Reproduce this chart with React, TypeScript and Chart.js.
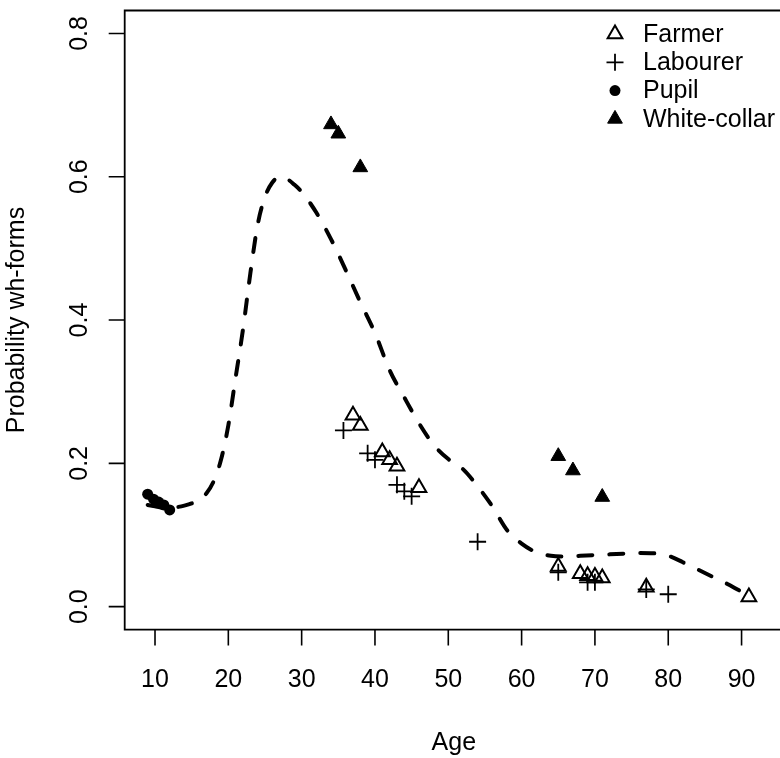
import React, { useEffect, useRef } from "react";
import { Chart, registerables } from "chart.js";

Chart.register(...registerables);

// ---- data ----
const curveAge = [9, 10, 11, 12, 13, 14, 15, 16, 17, 18, 19, 20, 21, 22, 23, 24, 25, 26, 27, 28, 29, 30, 32, 34, 36, 38, 40, 42, 44, 46, 48, 50, 52, 54, 56, 58, 60, 62, 64, 66, 68, 70, 72, 74, 76, 78, 80, 82, 84, 86, 88, 90, 91];
const curveProb = [0.142, 0.14, 0.138, 0.138, 0.139, 0.141, 0.144, 0.149, 0.158, 0.175, 0.205, 0.253, 0.32, 0.387, 0.465, 0.533, 0.572, 0.592, 0.6, 0.597, 0.589, 0.579, 0.55, 0.513, 0.47, 0.425, 0.382, 0.33, 0.292, 0.256, 0.226, 0.206, 0.192, 0.168, 0.14, 0.107, 0.088, 0.076, 0.071, 0.07, 0.071, 0.072, 0.073, 0.074, 0.075, 0.0745, 0.071, 0.062, 0.052, 0.042, 0.032, 0.021, 0.016];

const farmerAge = [37, 38, 41, 42, 43, 46, 65, 68, 69, 70, 71, 77, 91];
const farmerProb = [0.267, 0.253, 0.216, 0.205, 0.196, 0.166, 0.056, 0.046, 0.043, 0.042, 0.04, 0.027, 0.0136];

const labourerAge = [35.7, 39, 40, 43, 44, 45, 54, 65, 69, 70, 77, 80];
const labourerProb = [0.246, 0.214, 0.205, 0.17, 0.161, 0.154, 0.0906, 0.048, 0.034, 0.034, 0.024, 0.0173];

const pupilAge = [9, 9.8, 10.5, 11.2, 12];
const pupilProb = [0.157, 0.15, 0.146, 0.142, 0.135];

const whiteAge = [34, 35, 38, 65, 67, 71];
const whiteProb = [0.673, 0.66, 0.613, 0.21, 0.19, 0.153];

const xTickValues = [10, 20, 30, 40, 50, 60, 70, 80, 90];
const xTickLabels = ["10", "20", "30", "40", "50", "60", "70", "80", "90"];
const yTickValues = [0, 0.2, 0.4, 0.6, 0.8];
const yTickLabels = ["0.0", "0.2", "0.4", "0.6", "0.8"];

const legendLabels = ["Farmer", "Labourer", "Pupil", "White-collar"];
const xTitle = "Age";
const yTitle = "Probability wh-forms";

const W = 780;
const H = 758;
const FONT = '25px "Liberation Sans", Arial, Helvetica, sans-serif';

const pts = (xs: number[], ys: number[]) => xs.map((x, i) => ({ x, y: ys[i] }));

function drawMarker(ctx: CanvasRenderingContext2D, kind: string, x: number, y: number) {
  ctx.save();
  ctx.strokeStyle = "#000";
  ctx.fillStyle = "#000";
  if (kind === "triangle" || kind === "filledTriangle") {
    const r = 8.5;
    ctx.beginPath();
    for (let k = 0; k < 3; k++) {
      const a = (k * 2 * Math.PI) / 3;
      const px = x + Math.sin(a) * r;
      const py = y - Math.cos(a) * r;
      if (k === 0) ctx.moveTo(px, py);
      else ctx.lineTo(px, py);
    }
    ctx.closePath();
    if (kind === "filledTriangle") {
      ctx.fill();
      ctx.lineWidth = 1;
      ctx.stroke();
    } else {
      ctx.lineWidth = 2;
      ctx.stroke();
    }
  } else if (kind === "cross") {
    const r = 8.5;
    ctx.lineWidth = 1.8;
    ctx.beginPath();
    ctx.moveTo(x - r, y);
    ctx.lineTo(x + r, y);
    ctx.moveTo(x, y - r);
    ctx.lineTo(x, y + r);
    ctx.stroke();
  } else {
    ctx.beginPath();
    ctx.arc(x, y, 5.5, 0, Math.PI * 2);
    ctx.fill();
  }
  ctx.restore();
}

const rStylePlugin = {
  id: "rStyle",
  afterDraw(chart: any) {
    const { ctx, chartArea: ca, scales } = chart;
    const xs = scales.x;
    const ys = scales.y;
    ctx.save();
    ctx.strokeStyle = "#000";
    ctx.lineWidth = 1.8;
    ctx.beginPath();
    ctx.moveTo(W + 2, ca.top);
    ctx.lineTo(ca.left, ca.top);
    ctx.lineTo(ca.left, ca.bottom);
    ctx.lineTo(W + 2, ca.bottom);
    ctx.stroke();

    ctx.lineWidth = 1.6;
    ctx.beginPath();
    xTickValues.forEach((v) => {
      const px = xs.getPixelForValue(v);
      ctx.moveTo(px, ca.bottom);
      ctx.lineTo(px, ca.bottom + 16);
    });
    yTickValues.forEach((v) => {
      const py = ys.getPixelForValue(v);
      ctx.moveTo(ca.left, py);
      ctx.lineTo(ca.left - 16, py);
    });
    ctx.stroke();

    ctx.fillStyle = "#000";
    ctx.font = FONT;
    ctx.textAlign = "center";
    ctx.textBaseline = "alphabetic";
    xTickValues.forEach((v, i) => {
      ctx.fillText(xTickLabels[i], xs.getPixelForValue(v), ca.bottom + 57);
    });
    yTickValues.forEach((v, i) => {
      ctx.save();
      ctx.translate(ca.left - 38, ys.getPixelForValue(v));
      ctx.rotate(-Math.PI / 2);
      ctx.fillText(yTickLabels[i], 0, 0);
      ctx.restore();
    });
    ctx.fillText(xTitle, (ca.left + 783) / 2, ca.bottom + 120);
    ctx.save();
    ctx.translate(ca.left - 101, (ca.top + ca.bottom) / 2);
    ctx.rotate(-Math.PI / 2);
    ctx.fillText(yTitle, 0, 0);
    ctx.restore();

    // legend
    const kinds = ["triangle", "cross", "circle", "filledTriangle"];
    ctx.textAlign = "left";
    ctx.textBaseline = "middle";
    legendLabels.forEach((lab, i) => {
      const ly = 34 + i * 28.3;
      drawMarker(ctx, kinds[i], 615, ly);
      ctx.fillStyle = "#000";
      ctx.font = FONT;
      ctx.fillText(lab, 643, ly + 1);
    });
    ctx.restore();
  },
};

export default function App() {
  const ref = useRef<HTMLCanvasElement | null>(null);
  useEffect(() => {
    if (!ref.current) return;
    const left = 124.7;
    const top = 5.3;
    const bottom = 629.6;
    const chart = new Chart(ref.current, {
      type: "scatter",
      data: {
        datasets: [
          {
            type: "line",
            label: "fit",
            data: pts(curveAge, curveProb),
            borderColor: "#000",
            borderWidth: 4,
            borderDash: [14, 17],
            borderCapStyle: "round",
            pointRadius: 0,
            cubicInterpolationMode: "monotone",
            fill: false,
          } as any,
          {
            label: legendLabels[0],
            data: pts(farmerAge, farmerProb),
            pointStyle: "triangle",
            pointRadius: 8.5,
            backgroundColor: "rgba(0,0,0,0)",
            borderColor: "#000",
            borderWidth: 2,
          },
          {
            label: legendLabels[1],
            data: pts(labourerAge, labourerProb),
            pointStyle: "cross",
            pointRadius: 8.5,
            borderColor: "#000",
            borderWidth: 1.8,
          },
          {
            label: legendLabels[2],
            data: pts(pupilAge, pupilProb),
            pointStyle: "circle",
            pointRadius: 5.5,
            backgroundColor: "#000",
            borderColor: "#000",
            borderWidth: 0,
          },
          {
            label: legendLabels[3],
            data: pts(whiteAge, whiteProb),
            pointStyle: "triangle",
            pointRadius: 8.5,
            backgroundColor: "#000",
            borderColor: "#000",
            borderWidth: 1,
          },
        ],
      },
      options: {
        responsive: false,
        devicePixelRatio: 1,
        animation: false,
        layout: { padding: { left, top, right: 0, bottom: H - bottom } },
        scales: {
          x: { type: "linear", min: 5.866, max: 93.81, display: false },
          y: { type: "linear", min: -0.032, max: 0.832, display: false },
        },
        plugins: {
          legend: { display: false },
          tooltip: { enabled: false },
        },
        events: [],
      },
      plugins: [rStylePlugin],
    });
    return () => chart.destroy();
  }, []);
  return (
    <div style={{ position: "absolute", left: 0, top: 0, width: W, height: H, background: "#fff" }}>
      <canvas ref={ref} width={W} height={H} style={{ display: "block", width: W, height: H }} />
    </div>
  );
}
